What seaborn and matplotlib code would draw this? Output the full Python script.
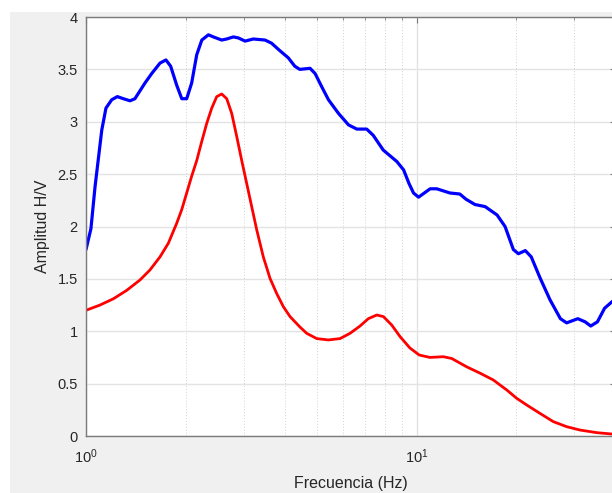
import matplotlib
matplotlib.use("Agg")
import matplotlib.pyplot as plt
import matplotlib.ticker as mticker
from matplotlib.patches import Rectangle
import seaborn as sns

# H/V curves
blue_freq = [1.00, 1.035, 1.065, 1.116, 1.149, 1.196, 1.244, 1.297, 1.359, 1.406,
             1.508, 1.580, 1.674, 1.745, 1.803, 1.880, 1.948, 2.016, 2.087, 2.162,
             2.240, 2.345, 2.427, 2.573, 2.663, 2.790, 2.889, 3.027, 3.206, 3.478,
             3.64, 3.82, 4.09, 4.28, 4.43, 4.76, 4.93, 5.17, 5.41, 5.80,
             6.22, 6.59, 7.06, 7.39, 7.92, 8.71, 9.13, 9.48, 9.78, 10.13,
             10.98, 11.50, 12.6, 13.5, 14.1, 15.0, 16.1, 17.5, 18.5, 19.6,
             20.3, 21.3, 22.2, 23.6, 25.3, 27.2, 28.4, 30.7, 32.3, 33.6,
             35.2, 37.0, 38.9, 40.0]
blue_amp = [1.78, 1.98, 2.38, 2.92, 3.13, 3.21, 3.24, 3.22, 3.20, 3.22,
            3.37, 3.46, 3.56, 3.59, 3.53, 3.35, 3.22, 3.22, 3.37, 3.64,
            3.78, 3.83, 3.81, 3.78, 3.79, 3.81, 3.80, 3.77, 3.79, 3.78,
            3.75, 3.69, 3.61, 3.53, 3.50, 3.51, 3.46, 3.33, 3.21, 3.08,
            2.97, 2.93, 2.93, 2.87, 2.73, 2.62, 2.54, 2.41, 2.32, 2.28,
            2.36, 2.36, 2.32, 2.31, 2.26, 2.21, 2.19, 2.11, 2.00, 1.78,
            1.74, 1.77, 1.71, 1.51, 1.30, 1.12, 1.08, 1.12, 1.09, 1.05,
            1.09, 1.22, 1.28, 1.31]

red_freq = [1.00, 1.102, 1.210, 1.327, 1.457, 1.561, 1.674, 1.774, 1.880, 1.947,
            2.016, 2.087, 2.162, 2.238, 2.318, 2.400, 2.485, 2.573, 2.664, 2.758,
            2.856, 2.957, 3.062, 3.170, 3.282, 3.437, 3.601, 3.773, 3.951, 4.14,
            4.235, 4.437, 4.650, 4.985, 5.405, 5.864, 6.285, 6.74, 7.14, 7.57,
            7.93, 8.40, 8.90, 9.54, 10.18, 10.97, 12.04, 12.76, 14.17, 15.54,
            17.04, 18.71, 20.06, 21.51, 23.59, 25.89, 28.41, 31.17, 35.03, 38.87,
            40.0]
red_amp = [1.20, 1.25, 1.31, 1.39, 1.49, 1.585, 1.71, 1.84, 2.03, 2.16,
           2.32, 2.48, 2.63, 2.81, 2.985, 3.13, 3.24, 3.265, 3.22, 3.08,
           2.86, 2.63, 2.41, 2.19, 1.97, 1.71, 1.505, 1.36, 1.235, 1.14,
           1.107, 1.04, 0.98, 0.93, 0.917, 0.93, 0.98, 1.05, 1.12, 1.155,
           1.14, 1.06, 0.95, 0.84, 0.773, 0.75, 0.757, 0.74, 0.66, 0.60,
           0.535, 0.44, 0.36, 0.296, 0.216, 0.137, 0.089, 0.057, 0.032, 0.019,
           0.017]

y_ticks = [0, 0.5, 1, 1.5, 2, 2.5, 3, 3.5, 4]

sns.set_theme(style="white")
plt.rcParams["font.family"] = ["Liberation Sans", "DejaVu Sans"]

fig = plt.figure(figsize=(6.12, 4.93), dpi=100, facecolor="white")
# matlab-like grey figure area (screenshot has a thin white margin top/left)
fig.patches.append(Rectangle((10 / 612, 0), 1, (493 - 12) / 493,
                             transform=fig.transFigure, facecolor="#f0f0f0",
                             edgecolor="none", zorder=-10))

ax = fig.add_axes([86 / 612, 57 / 493, 529.8 / 612, 419 / 493])
ax.set_facecolor("white")

sns.lineplot(x=blue_freq, y=blue_amp, ax=ax, color="#0000ff", linewidth=2.3,
             estimator=None, sort=False)
sns.lineplot(x=red_freq, y=red_amp, ax=ax, color="#ff0000", linewidth=2.0,
             estimator=None, sort=False)

ax.set_xscale("log")
ax.set_xlim(1, 40)
ax.set_ylim(0, 4)
ax.set_yticks(y_ticks)
ax.yaxis.set_major_formatter(mticker.FuncFormatter(lambda v, p: f"{v:g}"))
ax.xaxis.set_major_locator(mticker.LogLocator(base=10))
ax.xaxis.set_minor_locator(mticker.LogLocator(base=10, subs=range(2, 10)))
ax.xaxis.set_minor_formatter(mticker.NullFormatter())

ax.grid(True, which="major", axis="both", color="#e3e3e3", linewidth=1.0, linestyle="-")
ax.grid(True, which="minor", axis="x", color="#d2d2d2", linewidth=0.7, linestyle=(0, (1, 2)))
ax.set_axisbelow(True)

for s in ax.spines.values():
    s.set_color("#7a7a7a")
    s.set_linewidth(1.0)
ax.tick_params(which="both", direction="in", top=True, right=True,
               colors="#7a7a7a", labelcolor="#262626", labelsize=10.5)
ax.tick_params(which="major", length=4, width=0.8)
ax.tick_params(which="minor", length=2.5, width=0.6)
ax.tick_params(axis="y", pad=6)
ax.tick_params(axis="x", pad=8.5)

ax.set_xlabel("Frecuencia (Hz)", fontsize=11.5, color="#262626", labelpad=7)
ax.set_ylabel("Amplitud H/V", fontsize=11.5, color="#262626", labelpad=5)

fig.savefig("out.png", dpi=100, facecolor=fig.get_facecolor())
